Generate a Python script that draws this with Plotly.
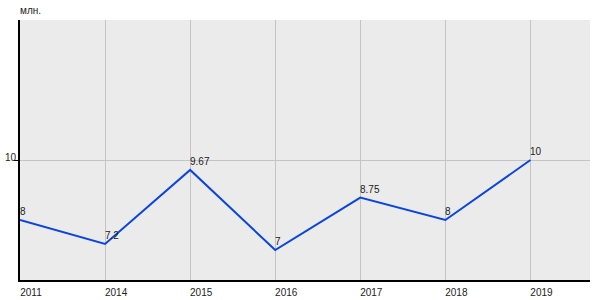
import plotly.graph_objects as go

years = ['2011', '2014', '2015', '2016', '2017', '2018', '2019']
values = [8, 7.2, 9.67, 7, 8.75, 8, 10]
labels = ['8', '7.2', '9.67', '7', '8.75', '8', '10']
unit = 'млн.'

FONT = dict(family='Liberation Sans, Arial, sans-serif', size=10, color='#222222')
xpos = list(range(len(years)))

fig = go.Figure()
fig.add_trace(go.Scatter(x=xpos, y=values, mode='lines',
                         line=dict(color='#0a45e0', width=2), hoverinfo='skip'))

annotations = []
for xi, v, t in zip(xpos, values, labels):
    annotations.append(dict(x=xi, y=v, xref='x', yref='y', text=t, showarrow=False,
                            xanchor='left', yanchor='bottom', xshift=-2, yshift=1,
                            font=FONT))
annotations.append(dict(x=0, y=1, xref='paper', yref='paper', text=unit, showarrow=False,
                        xanchor='left', yanchor='bottom', xshift=-2, yshift=2, font=FONT))

fig.update_layout(
    width=600, height=300,
    margin=dict(l=20, r=10, t=20, b=20, autoexpand=False),
    paper_bgcolor='white', plot_bgcolor='#ebebeb',
    showlegend=False,
    font=FONT,
    annotations=annotations,
    xaxis=dict(range=[0, 6.7], tickvals=xpos, ticktext=years, showgrid=True,
               gridcolor='#c4c4c4', gridwidth=1, showline=True, linecolor='black',
               linewidth=2, ticks='', ticklabelshift=11, ticklabelstandoff=2,
               zeroline=False, tickfont=FONT, automargin=False),
    yaxis=dict(range=[6, 14.67], tickvals=[10], ticktext=['10'], showgrid=True,
               gridcolor='#c4c4c4', gridwidth=1, showline=True, linecolor='black',
               linewidth=2, ticks='outside', ticklen=4, tickcolor='black',
               ticklabelstandoff=-4, ticklabelshift=-3,
               zeroline=False, tickfont=FONT, automargin=False),
)

fig.write_html('out.html')
